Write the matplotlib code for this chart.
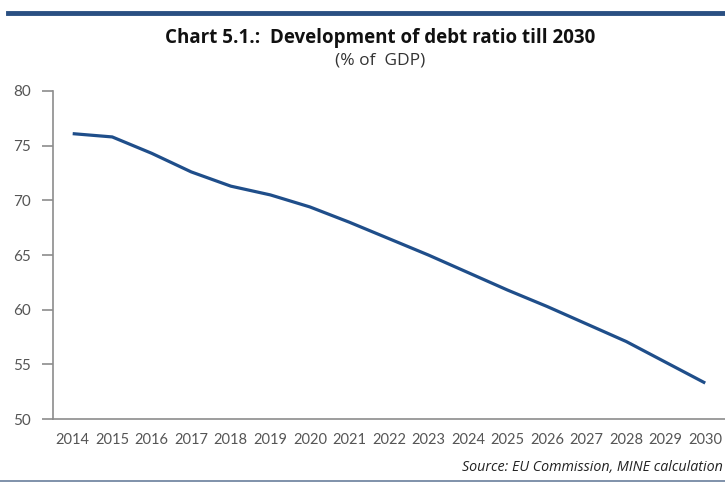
import numpy as np
import matplotlib
matplotlib.use("Agg")
import matplotlib.pyplot as plt
from matplotlib.lines import Line2D

plt.rcParams['font.family'] = ['Lato', 'DejaVu Sans']

# Данные (чтение с графика)
years = [str(y) for y in range(2014, 2031)]
debt_ratio = [76.1, 75.8, 74.3, 72.6, 71.3, 70.5, 69.4, 68.0, 66.5,
              65.0, 63.4, 61.8, 60.3, 58.7, 57.1, 55.2, 53.3]
y_ticks = [50, 55, 60, 65, 70, 75, 80]

fig = plt.figure(figsize=(7.25, 4.84), dpi=100)
ax = fig.add_axes([0.073, 0.134, 0.927, 0.678])

x = np.arange(len(years))
ax.plot(x, debt_ratio, color='#1f4e8a', lw=2.3, solid_capstyle='butt')

ax.set_xlim(-0.5, len(years) - 0.5)
ax.set_ylim(50, 80)
ax.set_yticks(y_ticks)
ax.set_xticks(x)
ax.set_xticklabels(years)

for s in ['top', 'right']:
    ax.spines[s].set_visible(False)
for s in ['left', 'bottom']:
    ax.spines[s].set_color('#8c8c8c')
    ax.spines[s].set_linewidth(1.2)
ax.tick_params(axis='y', length=8, width=1.2, color='#8c8c8c',
               labelsize=11, labelcolor='#555555', pad=8)
ax.tick_params(axis='x', length=0, labelsize=10.5, labelcolor='#555555', pad=10)

# заголовок
fig.text(0.524, 0.921, 'Chart 5.1.:  Development of debt ratio till 2030',
         ha='center', va='center', fontsize=13.5, fontweight='bold',
         family='Open Sans', color='#111111')
fig.text(0.524, 0.875, '(% of  GDP)', ha='center', va='center',
         fontsize=12.5, family='Open Sans', color='#333333')
fig.text(0.997, 0.035, 'Source: EU Commission, MINE calculation', ha='right',
         va='center', fontsize=10.3, style='italic', family='Open Sans',
         color='#222222')

# линии сверху и снизу
fig.add_artist(Line2D([0.011, 1.0], [0.974, 0.974], color='#2a4f82', lw=3.5))
fig.add_artist(Line2D([0.0, 1.0], [0.006, 0.006], color='#6a7f9c', lw=1.2))

fig.savefig('out.png', dpi=100)
